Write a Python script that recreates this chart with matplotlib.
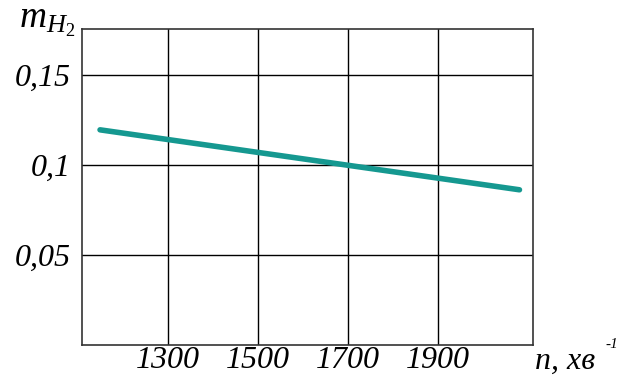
import matplotlib
matplotlib.use("Agg")
import matplotlib.pyplot as plt

plt.rcParams['font.family'] = ['Liberation Serif', 'DejaVu Serif']
plt.rcParams['mathtext.fontset'] = 'custom'
plt.rcParams['mathtext.it'] = 'Liberation Serif:italic'
plt.rcParams['mathtext.rm'] = 'Liberation Serif'

# data
n_values = [1150, 2080]
m_values = [0.1195, 0.0862]
x_ticks = [1300, 1500, 1700, 1900]
y_ticks = [0.05, 0.1, 0.15]
y_tick_labels = ["0,05", "0,1", "0,15"]

fig = plt.figure(figsize=(6.18, 3.76), dpi=100)
ax = fig.add_axes([82/618, 1 - 345/376, (533-82)/618, (345-29)/376])

ax.plot(n_values, m_values, color='#159890', linewidth=4.0, solid_capstyle='round')

ax.set_xlim(1110, 2110)
ax.set_ylim(0.0, 0.1755)
ax.set_xticks(x_ticks)
ax.set_xticklabels([str(v) for v in x_ticks], fontsize=23, style='italic')
ax.set_yticks(y_ticks)
ax.set_yticklabels(y_tick_labels, fontsize=23, style='italic')
ax.tick_params(axis='y', length=0, pad=8)
ax.tick_params(axis='x', length=0, pad=0.5)
ax.grid(True, color='black', linewidth=1.0)
ax.set_axisbelow(True)
for s in ax.spines.values():
    s.set_color('#333333')
    s.set_linewidth(1.2)

fig.text(535/618, 1 - 369/376, "n, хв", fontsize=23, style='italic', va='baseline', ha='left')
fig.text(605/618, 1 - 345/376, "-1", fontsize=11, style='italic', va='center', ha='left')
fig.text(19/618, 1 - 22/376, r'$m_{H_2}$', fontsize=27, va='center', ha='left')

fig.savefig("out.png", dpi=100)
